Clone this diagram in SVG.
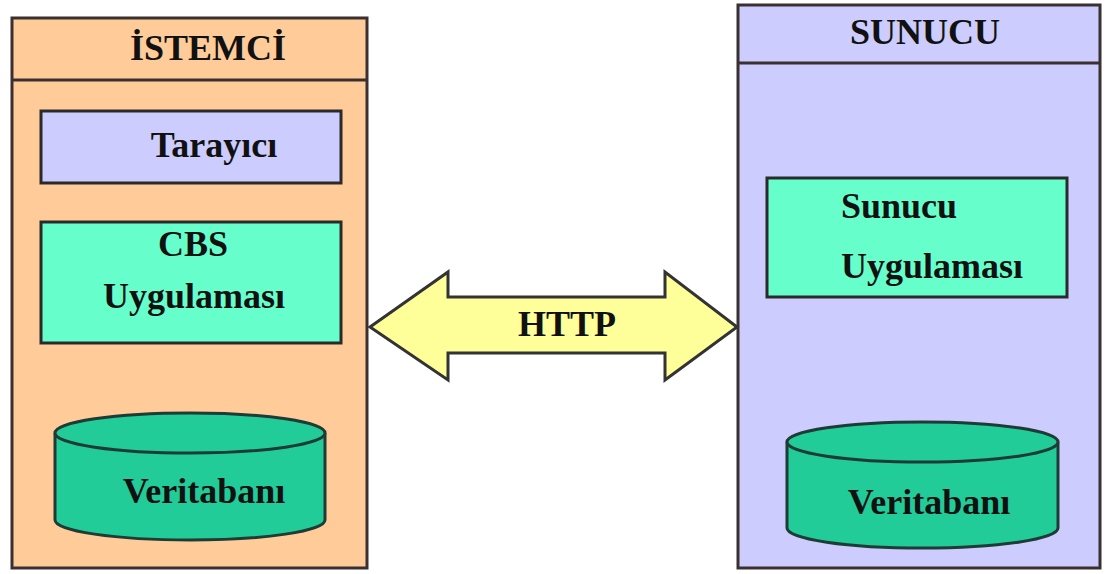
<svg xmlns="http://www.w3.org/2000/svg" width="1108" height="574" viewBox="0 0 1108 574">
  <style>
    .lbl { font-family: "Liberation Serif", "Times New Roman", serif; font-weight: bold; font-size: 36px; fill: #111; }
    .panel { stroke: #3a3030; stroke-width: 3; }
    .box { stroke: #2a2a2a; stroke-width: 3; }
    .db { fill: #22cc99; stroke: #1f3b35; stroke-width: 3; }
  </style>
  <rect width="1108" height="574" fill="#ffffff"/>

  <!-- client side -->
  <g id="istemci">
    <rect class="panel" x="12" y="18" width="355" height="550" fill="#ffcc99"/>
    <line class="panel" x1="12" y1="80" x2="367" y2="80"/>
    <text class="lbl" x="208" y="60" text-anchor="middle">İSTEMCİ</text>
  </g>
  <g id="tarayici">
    <rect class="box" x="41" y="111" width="300" height="72" fill="#ccccff"/>
    <text class="lbl" x="214" y="157" text-anchor="middle">Tarayıcı</text>
  </g>
  <g id="cbs-uygulamasi">
    <rect class="box" x="41" y="222" width="300" height="121" fill="#66ffcc"/>
    <text class="lbl" x="193" y="256" text-anchor="middle">CBS</text>
    <text class="lbl" x="194" y="308" text-anchor="middle">Uygulaması</text>
  </g>
  <g id="istemci-veritabani">
    <path class="db" d="M55,433 L55,520 A135,20 0 0 0 325,520 L325,433"/>
    <ellipse class="db" cx="190" cy="433" rx="135" ry="20"/>
    <text class="lbl" x="204" y="503" text-anchor="middle">Veritabanı</text>
  </g>

  <!-- server side -->
  <g id="sunucu">
    <rect class="panel" x="738" y="5" width="362" height="563" fill="#ccccff"/>
    <line class="panel" x1="738" y1="63" x2="1100" y2="63"/>
    <text class="lbl" x="925" y="44" text-anchor="middle">SUNUCU</text>
  </g>
  <g id="sunucu-uygulamasi">
    <rect class="box" x="767" y="178" width="300" height="119" fill="#66ffcc"/>
    <text class="lbl" x="841" y="218">Sunucu</text>
    <text class="lbl" x="841" y="278">Uygulaması</text>
  </g>
  <g id="sunucu-veritabani">
    <path class="db" d="M787,442 L787,528 A135.5,20 0 0 0 1058,528 L1058,442"/>
    <ellipse class="db" cx="922.5" cy="442" rx="135.5" ry="20"/>
    <text class="lbl" x="929" y="514" text-anchor="middle">Veritabanı</text>
  </g>

  <!-- HTTP link -->
  <g id="connectors">
    <polygon points="370,327 448,272 448,297 665,297 665,272 737,327 665,380 665,353 448,353 448,380" fill="#ffff99" stroke="#333" stroke-width="3" stroke-linejoin="miter"/>
    <text class="lbl" x="567" y="336" text-anchor="middle">HTTP</text>
  </g>
</svg>
